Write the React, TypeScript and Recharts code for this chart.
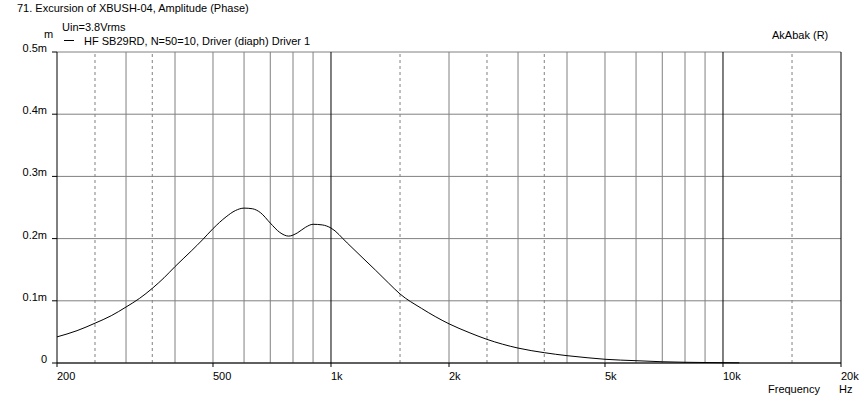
import React from "react";
import {
  LineChart,
  Line,
  XAxis,
  YAxis,
  CartesianGrid,
  ReferenceLine,
} from "recharts";

// frequency points (Hz) and excursion (m = mm)
const freqs = [
  200, 225, 250, 275, 300, 325, 350, 375, 400, 440, 470, 500, 540, 570, 600,
  630, 660, 700, 740, 780, 820, 860, 900, 950, 1000, 1100, 1200, 1300, 1400,
  1500, 1700, 2000, 2250, 2500, 3000, 3500, 4000, 4500, 5000, 6000, 7000,
  8000, 9000, 10000, 11000,
];
const excursion = [
  0.042, 0.052, 0.064, 0.076, 0.09, 0.104, 0.12, 0.137, 0.155, 0.18, 0.198,
  0.216, 0.235, 0.245, 0.249, 0.248, 0.242, 0.225, 0.21, 0.204, 0.209, 0.218,
  0.223, 0.222, 0.217, 0.193, 0.17, 0.149, 0.129, 0.111, 0.088, 0.063, 0.049,
  0.038, 0.024, 0.0166, 0.0118, 0.0085, 0.006, 0.0037, 0.002, 0.0012, 0.0008,
  0.0005, 0.0003,
];

const xTicks = [200, 500, 1000, 2000, 5000, 10000, 20000];
const yTicks = [0, 0.1, 0.2, 0.3, 0.4, 0.5];
const yTickLabels = ["0", "0.1m", "0.2m", "0.3m", "0.4m", "0.5m"];

const solidGrid = [300, 400, 500, 600, 700, 800, 900, 2000, 3000, 4000, 5000, 6000, 7000, 8000, 9000];
const dashedGrid = [250, 350, 1500, 2500, 3500, 15000];
const majorGrid = [1000, 10000, 20000];

const data = freqs.map((f, i) => ({ f, v: excursion[i] }));

const FONT = "'Liberation Sans', Arial, sans-serif";

const fmtHz = (v: number) => (v >= 1000 ? `${v / 1000}k` : `${v}`);

const XTick = (props: any) => {
  const { x, y, payload } = props;
  return (
    <text x={x} y={y + 11} textAnchor="start" fontSize={11} fontFamily={FONT} fill="#000">
      {fmtHz(payload.value)}
    </text>
  );
};

const YTick = (props: any) => {
  const { x, y, payload } = props;
  const idx = yTicks.indexOf(payload.value);
  return (
    <text x={x - 3} y={y} textAnchor="end" fontSize={11} fontFamily={FONT} fill="#000">
      {yTickLabels[idx]}
    </text>
  );
};

export default function App() {
  return (
    <div style={{ position: "absolute", left: 0, top: 0, width: 862, height: 402, background: "#fff" }}>
      <LineChart
        width={862}
        height={402}
        data={data}
        margin={{ top: 52, right: 21, bottom: 0, left: 0 }}
      >
        <CartesianGrid vertical={false} stroke="#808080" strokeWidth={1} />
        {solidGrid.map((f) => (
          <ReferenceLine key={`s${f}`} x={f} stroke="#808080" strokeWidth={1} />
        ))}
        {dashedGrid.map((f) => (
          <ReferenceLine key={`d${f}`} x={f} stroke="#808080" strokeWidth={1} strokeDasharray="3 3" />
        ))}
        {majorGrid.map((f) => (
          <ReferenceLine key={`m${f}`} x={f} stroke="#000" strokeWidth={1} />
        ))}
        <XAxis
          dataKey="f"
          type="number"
          scale="log"
          domain={[200, 20000]}
          ticks={xTicks}
          allowDataOverflow
          axisLine={{ stroke: "#000" }}
          tickLine={{ stroke: "#000" }}
          tickSize={4}
          tick={<XTick />}
          interval={0}
          height={39}
        />
        <YAxis
          type="number"
          domain={[0, 0.5]}
          ticks={yTicks}
          axisLine={{ stroke: "#000" }}
          tickLine={{ stroke: "#000" }}
          tickSize={5}
          tick={<YTick />}
          interval={0}
          width={57}
        />
        <Line
          type="monotone"
          dataKey="v"
          stroke="#000"
          strokeWidth={1}
          dot={false}
          isAnimationActive={false}
        />
      </LineChart>
      <svg
        width={862}
        height={402}
        style={{ position: "absolute", left: 0, top: 0, pointerEvents: "none" }}
      >
        <g fontFamily={FONT} fontSize={11} fill="#000">
          <text x={17} y={12}>71. Excursion of XBUSH-04, Amplitude (Phase)</text>
          <text x={62} y={31}>Uin=3.8Vrms</text>
          <line x1={64} x2={74} y1={40.5} y2={40.5} stroke="#000" />
          <text x={84} y={45}>HF SB29RD, N=50=10, Driver (diaph) Driver 1</text>
          <text x={44} y={38}>m</text>
          <text x={772} y={39}>AkAbak (R)</text>
          <text x={768} y={393}>Frequency</text>
          <text x={839} y={393}>Hz</text>
        </g>
      </svg>
    </div>
  );
}
